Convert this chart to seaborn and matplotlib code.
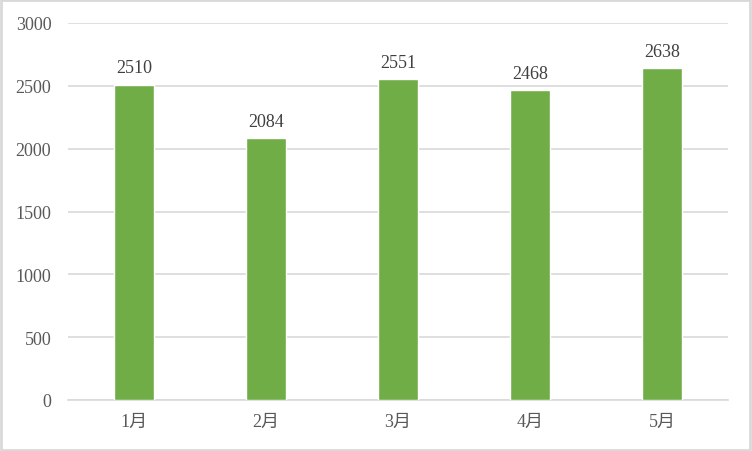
import matplotlib
matplotlib.use("Agg")
import matplotlib.pyplot as plt
import seaborn as sns
import pandas as pd
from matplotlib.patches import Rectangle

# data
months = ["1月", "2月", "3月", "4月", "5月"]
values = [2510, 2084, 2551, 2468, 2638]
yticks = [0, 500, 1000, 1500, 2000, 2500, 3000]

df = pd.DataFrame({"month": months, "value": values})

sns.set_style("white")
plt.rcParams["font.family"] = ["Liberation Serif", "Noto Sans CJK SC"]
text_color = "#595959"
grid_color = "#D9D9D9"

fig = plt.figure(figsize=(7.52, 4.52), dpi=100)
ax = fig.add_axes([68 / 752, 1 - 401 / 452, 660 / 752, 377 / 452])

sns.barplot(data=df, x="month", y="value", color="#70AD47", width=0.31,
            saturation=1, ax=ax, zorder=3)

ax.set_ylim(0, 3000)
ax.set_xlim(-0.5, len(months) - 0.5)
ax.set_yticks(yticks)
ax.set_yticklabels([str(t) for t in yticks])
ax.yaxis.grid(True, color=grid_color, linewidth=1.2, zorder=0)
ax.set_axisbelow(True)
ax.set_xlabel("")
ax.set_ylabel("")
for s in ["top", "right", "left"]:
    ax.spines[s].set_visible(False)
ax.spines["bottom"].set_color(grid_color)
ax.spines["bottom"].set_linewidth(1.2)
ax.tick_params(axis="both", length=0, labelsize=13, colors=text_color)
ax.tick_params(axis="y", pad=12)
ax.tick_params(axis="x", pad=9)

for c in ax.containers:
    ax.bar_label(c, labels=[str(v) for v in values], padding=6,
                 fontsize=13, color="#404040")

# light frame round the chart
fig.patches.append(Rectangle((0.001, 0.002), 0.997, 0.995, transform=fig.transFigure,
                             fill=False, edgecolor=grid_color, linewidth=2))

fig.savefig("out.png", dpi=100)
